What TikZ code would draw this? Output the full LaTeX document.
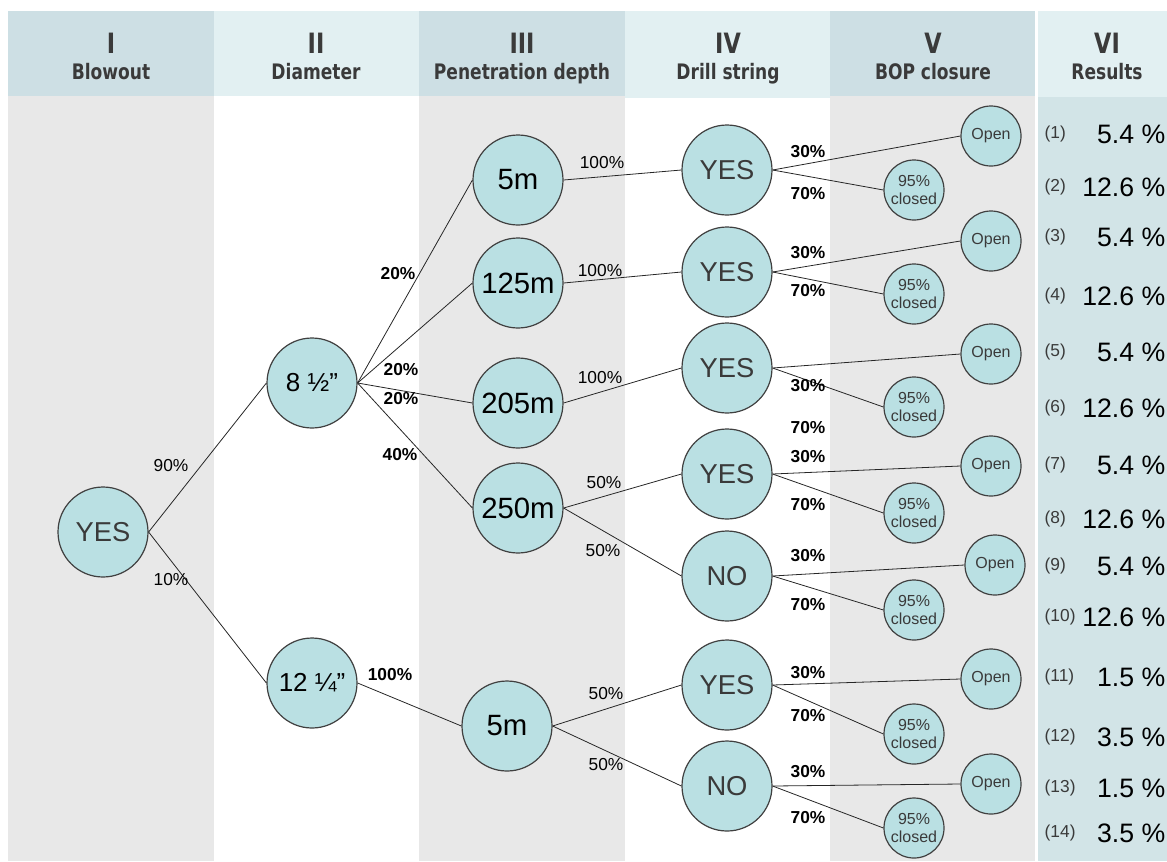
\documentclass[tikz,border=0pt]{standalone}
\usepackage{fontspec}
\setmainfont{Liberation Sans}
\newfontfamily\hdrfont{DejaVu Sans}[FakeStretch=0.8]
\usepackage{tikz}
\usetikzlibrary{positioning}
\definecolor{hdrdark}{HTML}{CDDFE4}
\definecolor{hdrlight}{HTML}{E2F0F2}
\definecolor{bodygray}{HTML}{E8E8E8}
\definecolor{resblue}{HTML}{D2E4E7}
\definecolor{nodefill}{HTML}{BAE0E3}
\definecolor{nodeline}{HTML}{404040}
\definecolor{txtgray}{HTML}{3A3A3A}

\begin{document}
\begin{tikzpicture}
            [x=0.75pt,y=-0.75pt,
            a/.style={circle,draw=nodeline,line width=0.9pt,fill=nodefill,minimum size=67.5pt,inner sep=0pt,font=\fontsize{20.5}{22}\selectfont},
            m/.style={a,font=\fontsize{22}{24}\selectfont},
            b/.style={circle,draw=nodeline,line width=0.9pt,fill=nodefill,minimum size=45pt,inner sep=0pt,align=center,text=txtgray,font=\fontsize{12}{13.5}\selectfont},
            hd/.style={anchor=base,text=txtgray,font=\hdrfont\bfseries\fontsize{16}{18}\selectfont},
            num/.style={anchor=base,text=txtgray,font=\hdrfont\bfseries\fontsize{21}{23}\selectfont},
            p/.style={font=\fontsize{13}{15}\selectfont},
            pb/.style={font=\bfseries\fontsize{13}{15}\selectfont},
            ln/.style={draw=black!85,line width=0.6pt}]
            \useasboundingbox (0,0) rectangle (1167,861);
            % column bands
            \fill[hdrdark] (8,11) rectangle (214,96);
            \fill[hdrlight] (214,11) rectangle (419,96);
            \fill[hdrdark] (419,11) rectangle (625,96);
            \fill[hdrlight] (625,11) rectangle (830,98);
            \fill[hdrdark] (830,11) rectangle (1035,96);
            \fill[hdrlight] (1038,11) rectangle (1167,97);
            \fill[bodygray] (8,96) rectangle (214,861);
            \fill[bodygray] (419,96) rectangle (625,861);
            \fill[bodygray] (830,96) rectangle (1035,861);
            \fill[resblue] (1038,97) rectangle (1167,861);
            \foreach \x/\r/\t in {111/I/Blowout,316/II/Diameter,522/III/Penetration depth,
                                  728/IV/Drill string,933/V/BOP closure,1107/VI/Results}{
                \node[num] (n\r) at (\x,53) {\r};
                \node[hd] (h\r) at (\x,79) {\t};
            }
            % tree
            \node[a,text=txtgray] (yes) at (103,532) {YES};
            \node[a,font=\fontsize{19.5}{22}\selectfont] (d8) at (312,383) {8 ½”};
            \node[a,font=\fontsize{19.5}{22}\selectfont] (d12) at (312,683) {12 ¼”};
            \node[m] (p5) at (518,180) {5m};
            \node[m] (p125) at (518,283) {125m};
            \node[m] (p205) at (518,403) {205m};
            \node[m] (p250) at (518,508) {250m};
            \node[m] (q5) at (507,726) {5m};
            \foreach \i/\y/\t/\ox/\oy/\cy/\sy/\ty in {1/170/YES/991/136/190/152/194,
                                                    2/272/YES/991/241/294/253/291,
                                                    3/368/YES/991/354/407/386/428,
                                                    4/474/YES/991/466/513/457/505,
                                                    5/576/NO/995/565/610/556/605,
                                                    6/685/YES/991/679/734/673/716,
                                                    7/786/NO/991/784/828/772/818}{
                \node[a,text=txtgray] (s\i) at (727,\y) {\t};
                \node[b] (o\i) at (\ox,\oy) {Open};
                \node[b] (c\i) at (914,\cy) {95\%\\closed};
                \draw[ln] (s\i.east) -- (o\i.west);
                \draw[ln] (s\i.east) -- (c\i.west);
                \node[pb] (x\i) at (808,\sy) {30\%};
                \node[pb] (z\i) at (808,\ty) {70\%};
            }
            \draw[ln] (yes.east) -- (d8.west);
            \draw[ln] (yes.east) -- (d12.west);
            \draw[ln] (d8.east) -- (p5.west);
            \draw[ln] (d8.east) -- (p125.west);
            \draw[ln] (d8.east) -- (p205.west);
            \draw[ln] (d8.east) -- (p250.west);
            \draw[ln] (d12.east) -- (q5.west);
            \draw[ln] (p5.east) -- (s1.west);
            \draw[ln] (p125.east) -- (s2.west);
            \draw[ln] (p205.east) -- (s3.west);
            \draw[ln] (p250.east) -- (s4.west);
            \draw[ln] (p250.east) -- (s5.west);
            \draw[ln] (q5.east) -- (s6.west);
            \draw[ln] (q5.east) -- (s7.west);
            % branch probabilities
            \node[p] (l90) at (171,466) {90\%};
            \node[p] (l10) at (171,580) {10\%};
            \node[pb] (l20a) at (398,274) {20\%};
            \node[pb] (l20b) at (401,370) {20\%};
            \node[pb] (l20c) at (401,399) {20\%};
            \node[pb] (l40) at (400,455) {40\%};
            \node[pb] (l100) at (390,675) {100\%};
            \node[p] (m1) at (602,163) {100\%};
            \node[p] (m2) at (600,271) {100\%};
            \node[p] (m3) at (600,378) {100\%};
            \node[p] (m4) at (604,483) {50\%};
            \node[p] (m5) at (603,551) {50\%};
            \node[p] (m6) at (606,694) {50\%};
            \node[p] (m7) at (606,765) {50\%};
            % results
            \foreach \k/\v/\y in {1/5.4/134,2/12.6/187,3/5.4/237,4/12.6/296,5/5.4/352,6/12.6/408,7/5.4/465,
                                  8/12.6/519,9/5.4/566,10/12.6/617,11/1.5/677,12/3.5/737,13/1.5/788,14/3.5/833}{
                \node[anchor=west,text=txtgray,font=\fontsize{13}{15}\selectfont] (r\k) at (1040,\y) {(\k)};
                \node[anchor=east,font=\fontsize{20}{22}\selectfont] (v\k) at (1170,\y) {\v\ \%};
            }
        \end{tikzpicture}
\end{document}
